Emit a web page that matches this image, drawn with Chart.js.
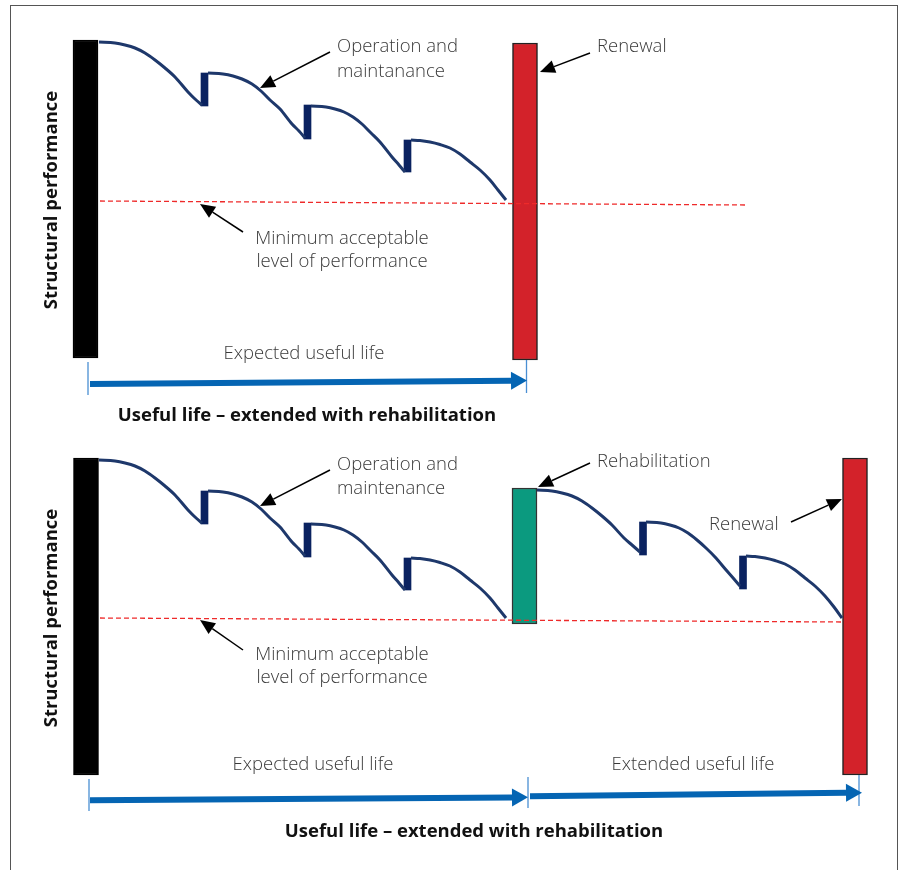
<!DOCTYPE html>
<html>
<head>
<meta charset="utf-8">
<script src="https://cdn.jsdelivr.net/npm/chart.js@4.4.1/dist/chart.umd.min.js"></script>
<style>
  html, body { margin: 0; padding: 0; background: #fff; overflow: hidden; width: 907px; height: 870px; }
  #frame { position: absolute; left: 10px; top: 5px; width: 886px; height: 900px; border: 1.5px solid #555; border-bottom: none; }
  .panel { position: absolute; left: 0; width: 907px; }
  #panelA { top: 0; height: 440px; }
  #panelB { top: 418px; height: 452px; }
</style>
</head>
<body>
<div id="frame"></div>
<div class="panel" id="panelA"><canvas id="chartA"></canvas></div>
<div class="panel" id="panelB"><canvas id="chartB"></canvas></div>
<script>
// units: x = time, y = structural performance (both panels share the same scales)

// interventions (wide blocks): build, rehabilitation, renewal
const aBlockX = [8.55, 52.5];
const aBlockLow = [6.0, 5.8];
const aBlockHigh = [37.8, 37.5];
const aBlockColor = ["#000000", "#d3222a"];
const aBlockEdge = ["#000000", "#222222"];

const bBlockX = [8.6, 52.45, 85.5];
const bBlockLow = [6.1, 21.2, 6.1];
const bBlockHigh = [37.8, 34.8, 37.8];
const bBlockColor = ["#000000", "#0b9a7f", "#d3222a"];
const bBlockEdge = ["#000000", "#333333", "#222222"];

// maintenance steps (narrow blocks)
const maintX = [20.45, 30.75, 40.75, 64.3, 74.3];
const maintLow = [31.2, 27.9, 24.6, 28.1, 24.7];
const maintHigh = [34.5, 31.3, 27.8, 31.4, 28.0];

// deterioration curves between interventions
const decayX = [
  [9.9, 11.5, 12.5, 13.5, 14.5, 15.5, 16.5, 17.5, 18.8, 19.5, 20.2],
  [20.8, 22.3, 23.3, 24.2, 25.2, 26.1, 27.0, 28.0, 29.2, 29.9, 30.5],
  [31.1, 32.6, 33.5, 34.4, 35.3, 36.2, 37.1, 38.0, 39.2, 39.9, 40.5],
  [41.1, 42.0, 43.0, 44.0, 45.0, 46.0, 47.0, 48.0, 49.0, 49.8, 50.6],
  [53.7, 55.2, 56.2, 57.2, 58.2, 59.2, 60.2, 61.2, 62.4, 63.2, 64.0],
  [64.6, 66.1, 67.0, 67.9, 68.8, 69.7, 70.6, 71.5, 72.7, 73.4, 74.0],
  [74.6, 75.5, 76.5, 77.5, 78.5, 79.5, 80.5, 81.5, 82.5, 83.4, 84.2]
];
const decayY = [
  [37.6, 37.5, 37.3, 37.0, 36.5, 35.8, 35.0, 34.1, 32.6, 31.9, 31.3],
  [34.5, 34.4, 34.2, 33.9, 33.4, 32.7, 31.8, 30.9, 29.4, 28.7, 28.0],
  [31.2, 31.1, 30.9, 30.6, 30.1, 29.4, 28.5, 27.6, 26.1, 25.3, 24.6],
  [27.8, 27.75, 27.6, 27.35, 27.0, 26.4, 25.6, 24.8, 23.8, 22.8, 21.8],
  [34.6, 34.5, 34.3, 34.0, 33.5, 32.8, 32.0, 31.1, 29.8, 29.1, 28.4],
  [31.4, 31.3, 31.1, 30.8, 30.3, 29.6, 28.8, 27.9, 26.5, 25.7, 25.0],
  [28.0, 27.95, 27.8, 27.55, 27.2, 26.6, 25.8, 25.0, 24.0, 22.9, 21.8]
];

// minimum acceptable level of performance
const aMinX = [10.0, 74.7];
const aMinY = [21.7, 21.3];
const bMinX = [10.0, 84.3];
const bMinY = [21.8, 21.4];

// useful life spans (blue arrows) and their end marks
const aSpanX1 = [9.0];
const aSpanY1 = [3.4];
const aSpanX2 = [52.7];
const aSpanY2 = [3.75];
const aMarkX = [8.8, 52.65];
const aMarkLow = [2.3, 2.5];
const aMarkHigh = [5.6, 5.8];

const bSpanX1 = [9.0, 53.0];
const bSpanY1 = [3.57, 3.97];
const bSpanX2 = [52.8, 86.2];
const bSpanY2 = [3.87, 4.33];
const bMarkX = [8.9, 52.8, 85.9];
const bMarkLow = [2.5, 2.8, 3.0];
const bMarkHigh = [5.7, 5.9, 6.1];

// labels
const aText = ["Operation and", "maintanance", "Renewal", "Minimum acceptable", "level of performance", "Expected useful life", "Useful life \u2013 extended with rehabilitation"];
const aTextX = [33.7, 33.7, 59.7, 34.2, 34.2, 30.4, 30.7];
const aTextY = [37.1, 34.6, 37.1, 17.9, 15.6, 6.4, 0.2];
const aTextAlign = ["left", "left", "left", "center", "center", "center", "center"];
const aTextBold = [false, false, false, false, false, false, true];

const bText = ["Operation and", "maintenance", "Rehabilitation", "Renewal", "Minimum acceptable", "level of performance", "Expected useful life", "Extended useful life", "Useful life \u2013 extended with rehabilitation"];
const bTextX = [33.7, 33.7, 59.7, 70.9, 34.2, 34.2, 31.3, 69.3, 47.4];
const bTextY = [37.1, 34.7, 37.4, 31.1, 18.1, 15.8, 7.1, 7.1, 0.4];
const bTextAlign = ["left", "left", "left", "left", "center", "center", "center", "center", "center"];
const bTextBold = [false, false, false, false, false, false, false, false, true];

// pointer arrows (from text to target)
const aPtrX1 = [33.0, 59.0, 24.3];
const aPtrY1 = [36.6, 36.5, 18.6];
const aPtrX2 = [26.0, 54.0, 20.0];
const aPtrY2 = [33.0, 34.6, 21.4];

const bPtrX1 = [33.0, 59.0, 79.1, 24.3];
const bPtrY1 = [36.6, 37.3, 31.4, 18.6];
const bPtrX2 = [26.0, 53.8, 84.2, 20.0];
const bPtrY2 = [33.0, 34.9, 33.7, 21.6];

const axisTitle = "Structural performance";
const axisTitleX = 5.2;
const axisTitleY = 21.8;

const FONT = '"Open Sans", "Noto Sans", sans-serif';
const SIZE = "18.5px ";

const pts = (xs, ys) => xs.map((v, i) => ({ x: v, y: ys[i] }));
const bars = (xs, lo, hi) => xs.map((v, i) => ({ x: v, y: [lo[i], hi[i]] }));

function drawArrow(ctx, x1, y1, x2, y2, width, headLen, headHalf, color) {
  const a = Math.atan2(y2 - y1, x2 - x1);
  const bx = x2 - headLen * Math.cos(a);
  const by = y2 - headLen * Math.sin(a);
  ctx.strokeStyle = color;
  ctx.lineWidth = width;
  ctx.beginPath();
  ctx.moveTo(x1, y1);
  ctx.lineTo(bx, by);
  ctx.stroke();
  ctx.fillStyle = color;
  ctx.beginPath();
  ctx.moveTo(x2, y2);
  ctx.lineTo(bx + headHalf * Math.sin(a), by - headHalf * Math.cos(a));
  ctx.lineTo(bx - headHalf * Math.sin(a), by + headHalf * Math.cos(a));
  ctx.closePath();
  ctx.fill();
}

const overlay = {
  id: "overlay",
  afterDatasetsDraw(chart, args, o) {
    const { ctx } = chart;
    const sx = chart.scales.x, sy = chart.scales.y;
    const X = (v) => sx.getPixelForValue(v);
    const Y = (v) => sy.getPixelForValue(v);
    ctx.save();

    // end marks of the life spans
    ctx.strokeStyle = "#4a8fd3";
    ctx.lineWidth = 1.3;
    o.markX.forEach((v, i) => {
      ctx.beginPath();
      ctx.moveTo(X(v), Y(o.markLow[i]));
      ctx.lineTo(X(v), Y(o.markHigh[i]));
      ctx.stroke();
    });

    // blue life arrows
    o.spanX1.forEach((v, i) => {
      drawArrow(ctx, X(v), Y(o.spanY1[i]), X(o.spanX2[i]), Y(o.spanY2[i]), 6, 16, 9, "#0565b3");
    });

    // pointer arrows
    o.ptrX1.forEach((v, i) => {
      drawArrow(ctx, X(v), Y(o.ptrY1[i]), X(o.ptrX2[i]), Y(o.ptrY2[i]), 1.5, 15, 6.5, "#000");
    });

    // labels
    ctx.textBaseline = "middle";
    o.text.forEach((t, i) => {
      ctx.font = o.bold[i] ? "bold " + SIZE + FONT : "300 " + SIZE + FONT;
      ctx.fillStyle = o.bold[i] ? "#111" : "#3a3a3a";
      ctx.textAlign = o.align[i];
      ctx.fillText(t, X(o.textX[i]), Y(o.textY[i]));
    });

    // vertical axis title
    ctx.translate(X(axisTitleX), Y(axisTitleY));
    ctx.rotate(-Math.PI / 2);
    ctx.font = "bold " + SIZE + FONT;
    ctx.fillStyle = "#111";
    ctx.textAlign = "center";
    ctx.fillText(axisTitle, 0, 0);
    ctx.restore();
  }
};

function makeChart(id, cfg) {
  const datasets = [
    {
      type: "bar",
      data: bars(cfg.blockX, cfg.blockLow, cfg.blockHigh),
      backgroundColor: cfg.blockColor,
      borderColor: cfg.blockEdge,
      borderWidth: 1.5,
      borderSkipped: false,
      barThickness: 25,
      grouped: false,
      order: 3
    },
    {
      type: "bar",
      data: bars(cfg.maintX, cfg.maintLow, cfg.maintHigh),
      backgroundColor: "#0a2260",
      borderWidth: 0,
      barThickness: 7,
      grouped: false,
      order: 3
    },
    {
      type: "line",
      data: pts(cfg.minX, cfg.minY),
      borderColor: "#ee2a2a",
      borderWidth: 1.3,
      borderDash: [5, 3],
      pointRadius: 0,
      order: 1
    }
  ];
  cfg.decayX.forEach((xs, i) => {
    datasets.push({
      type: "line",
      data: pts(xs, cfg.decayY[i]),
      borderColor: "#1e386b",
      borderWidth: 3,
      pointRadius: 0,
      cubicInterpolationMode: "monotone",
      order: 2
    });
  });

  return new Chart(document.getElementById(id), {
    type: "bar",
    data: { datasets: datasets },
    options: {
      responsive: true,
      maintainAspectRatio: false,
      animation: false,
      layout: { padding: 0 },
      plugins: {
        legend: { display: false },
        tooltip: { enabled: false },
        overlay: cfg.overlay
      },
      scales: {
        x: { type: "linear", min: 0, max: 90.7, offset: false, display: false },
        y: { type: "linear", min: cfg.yMin, max: 41.8, display: false }
      }
    },
    plugins: [overlay]
  });
}

makeChart("chartA", {
  blockX: aBlockX, blockLow: aBlockLow, blockHigh: aBlockHigh, blockColor: aBlockColor, blockEdge: aBlockEdge,
  maintX: maintX.slice(0, 3), maintLow: maintLow.slice(0, 3), maintHigh: maintHigh.slice(0, 3),
  decayX: decayX.slice(0, 4), decayY: decayY.slice(0, 4),
  minX: aMinX, minY: aMinY,
  yMin: -2.2,
  overlay: {
    markX: aMarkX, markLow: aMarkLow, markHigh: aMarkHigh,
    spanX1: aSpanX1, spanY1: aSpanY1, spanX2: aSpanX2, spanY2: aSpanY2,
    ptrX1: aPtrX1, ptrY1: aPtrY1, ptrX2: aPtrX2, ptrY2: aPtrY2,
    text: aText, textX: aTextX, textY: aTextY, align: aTextAlign, bold: aTextBold
  }
});

makeChart("chartB", {
  blockX: bBlockX, blockLow: bBlockLow, blockHigh: bBlockHigh, blockColor: bBlockColor, blockEdge: bBlockEdge,
  maintX: maintX, maintLow: maintLow, maintHigh: maintHigh,
  decayX: decayX, decayY: decayY,
  minX: bMinX, minY: bMinY,
  yMin: -3.4,
  overlay: {
    markX: bMarkX, markLow: bMarkLow, markHigh: bMarkHigh,
    spanX1: bSpanX1, spanY1: bSpanY1, spanX2: bSpanX2, spanY2: bSpanY2,
    ptrX1: bPtrX1, ptrY1: bPtrY1, ptrX2: bPtrX2, ptrY2: bPtrY2,
    text: bText, textX: bTextX, textY: bTextY, align: bTextAlign, bold: bTextBold
  }
});
</script>
</body>
</html>
